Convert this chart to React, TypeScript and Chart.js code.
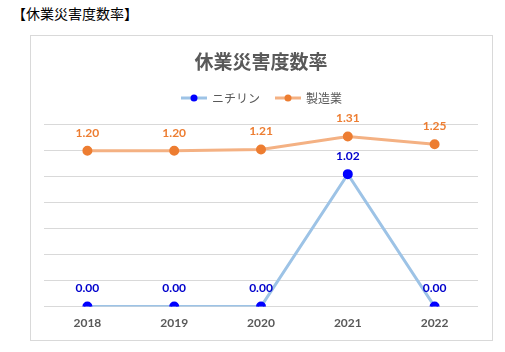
import React, { useEffect, useRef } from "react";
import { Chart, registerables } from "chart.js";

Chart.register(...registerables);

const years = ["2018", "2019", "2020", "2021", "2022"];
const nichirin = [0.0, 0.0, 0.0, 1.02, 0.0];
const manufacturing = [1.2, 1.2, 1.21, 1.31, 1.25];
const seriesNames = ["ニチリン", "製造業"];
const chartTitle = "休業災害度数率";
const headerText = "【休業災害度数率】";

const JP = "'Noto Sans CJK JP', sans-serif";
const NUM = "Lato, 'Noto Sans CJK JP', sans-serif";

const valueLabels = {
  id: "valueLabels",
  afterDatasetsDraw(chart: any) {
    const ctx = chart.ctx;
    ctx.save();
    ctx.font = `bold 12px ${NUM}`;
    ctx.textAlign = "center";
    ctx.textBaseline = "middle";
    chart.data.datasets.forEach((ds: any, i: number) => {
      const meta = chart.getDatasetMeta(i);
      ctx.fillStyle = ds.labelColor;
      meta.data.forEach((pt: any, j: number) => {
        ctx.fillText(Number(ds.data[j]).toFixed(2), pt.x, pt.y - 18);
      });
    });
    ctx.restore();
  },
};

const customLegend = {
  id: "customLegend",
  afterDraw(chart: any) {
    const ctx = chart.ctx;
    ctx.save();
    ctx.font = `12px ${JP}`;
    ctx.textBaseline = "middle";
    const iconW = 26;
    const gapText = 5;
    const gapItem = 15;
    const items = chart.data.datasets.map((ds: any) => ({
      text: ds.label,
      line: ds.borderColor,
      dot: ds.pointBackgroundColor,
      w: ctx.measureText(ds.label).width,
    }));
    const total =
      items.reduce((s: number, it: any) => s + iconW + gapText + it.w, 0) + gapItem * (items.length - 1);
    let x = chart.width / 2 - total / 2;
    const y = 62;
    items.forEach((it: any) => {
      ctx.strokeStyle = it.line;
      ctx.lineWidth = 3;
      ctx.beginPath();
      ctx.moveTo(x, y);
      ctx.lineTo(x + iconW, y);
      ctx.stroke();
      ctx.fillStyle = it.dot;
      ctx.beginPath();
      ctx.arc(x + iconW / 2, y, 3.5, 0, Math.PI * 2);
      ctx.fill();
      x += iconW + gapText;
      ctx.fillStyle = "#595959";
      ctx.textAlign = "left";
      ctx.fillText(it.text, x, y);
      x += it.w + gapItem;
    });
    ctx.restore();
  },
};

export default function App() {
  const ref = useRef<HTMLCanvasElement>(null);
  useEffect(() => {
    const chart = new Chart(ref.current!, {
      type: "line",
      data: {
        labels: years,
        datasets: [
          {
            label: seriesNames[0],
            data: nichirin,
            borderColor: "#9DC3E6",
            backgroundColor: "#0000FF",
            pointBackgroundColor: "#0000FF",
            pointBorderColor: "#0000FF",
            pointRadius: 3.5,
            pointStyle: "circle",
            borderWidth: 3,
            labelColor: "#0000CC",
          } as any,
          {
            label: seriesNames[1],
            data: manufacturing,
            borderColor: "#F4B183",
            backgroundColor: "#ED7D31",
            pointBackgroundColor: "#ED7D31",
            pointBorderColor: "#ED7D31",
            pointRadius: 3.5,
            pointStyle: "circle",
            borderWidth: 3,
            labelColor: "#ED7D31",
          } as any,
        ],
      },
      options: {
        animation: false,
        responsive: false,
        maintainAspectRatio: false,
        layout: { padding: { left: 13, right: 14, top: 0, bottom: 9 } },
        plugins: {
          title: {
            display: true,
            text: chartTitle,
            color: "#595959",
            font: { family: JP, size: 19, weight: "bold" },
            padding: { top: 14, bottom: 52 },
          },
          legend: { display: false },
          tooltip: { enabled: false },
        },
        scales: {
          x: {
            offset: true,
            grid: { display: false },
            border: { display: false },
            ticks: {
              color: "#595959",
              font: { family: NUM, size: 12, weight: "bold" },
              padding: 1,
            },
          },
          y: {
            min: 0,
            max: 1.4,
            ticks: { display: false, stepSize: 0.2 },
            grid: { color: "#D9D9D9", drawTicks: false },
            border: { display: false },
          },
        },
      },
      plugins: [valueLabels, customLegend],
    });
    return () => chart.destroy();
  }, []);

  return (
    <div style={{ position: "absolute", left: 0, top: 0, width: 505, height: 352, background: "#fff" }}>
      <div
        style={{
          position: "absolute",
          left: 12,
          top: 3,
          fontFamily: JP,
          fontSize: 14,
          color: "#000",
          whiteSpace: "nowrap",
        }}
      >
        {headerText}
      </div>
      <div
        style={{
          position: "absolute",
          left: 30,
          top: 35,
          width: 461,
          height: 304,
          border: "1px solid #D9D9D9",
        }}
      >
        <canvas ref={ref} width={461} height={304} style={{ display: "block", width: 461, height: 304 }} />
      </div>
    </div>
  );
}
